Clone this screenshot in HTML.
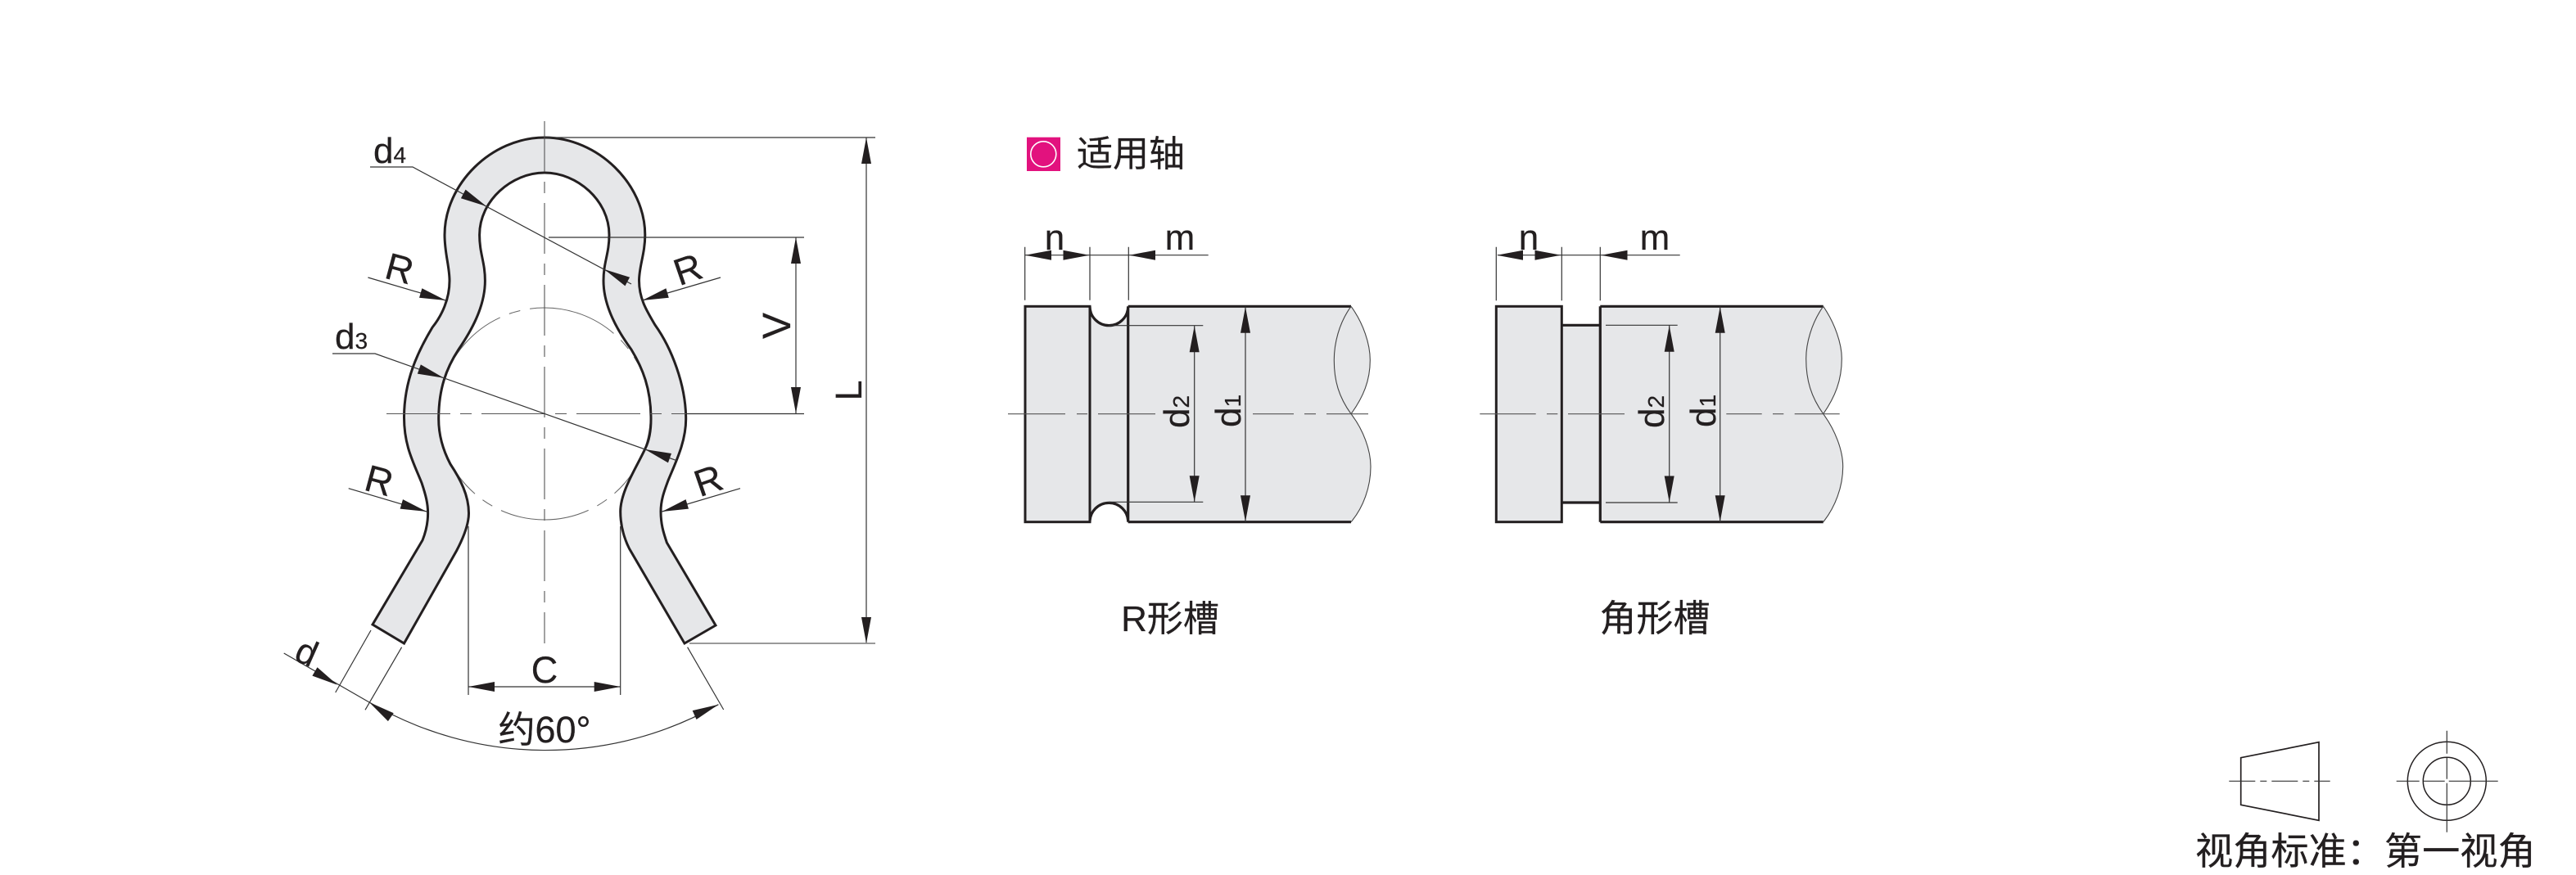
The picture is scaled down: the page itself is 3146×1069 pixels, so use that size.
<!DOCTYPE html>
<html lang="zh">
<head>
<meta charset="utf-8">
<title>适用轴</title>
<style>
html,body{margin:0;padding:0;background:#fff;}
svg{display:block;}
text{font-family:"Liberation Sans","Noto Sans CJK SC",sans-serif;fill:#231f20;stroke:#231f20;stroke-width:.25;}
.b{fill:#e6e7e9;stroke:#231f20;stroke-width:3;stroke-linejoin:miter;}
.t{fill:none;stroke:#333;stroke-width:1.2;}
.c{fill:none;stroke:#555;stroke-width:1.1;}
.h{fill:none;stroke:#231f20;stroke-width:3.2;}
</style>
</head>
<body>
<svg xmlns="http://www.w3.org/2000/svg" width="3146" height="1069" viewBox="0 0 3146 1069">
<defs><polygon id="a" points="0,0 -32,-6 -32,6" fill="#231f20"/></defs>
<rect width="3146" height="1069" fill="#fff"/>

<!-- Clip body -->
<circle cx="665" cy="505.5" r="129.5" fill="none" stroke="#666" stroke-width="1" stroke-dasharray="110 12 14 12"/>
<path class="b" d="M665,168 C600,168 543,225 543,287 C543,310 549,325 549,343 C549,365 540,385 528,400 C510,430 493.5,465 493.5,510 C493.5,545 505,565 515,590 C520,605 522.6,615 522.6,627 C522.6,640 520,650 516,660 L455,763 L493.5,786 L557.5,673 C567,655 572.5,640 572.5,627 C572.5,605 562,585 550,567 C540,548 535.7,530 535.7,512 C535.7,475 545,450 560,427 C575,405 592.4,375 592.4,343 C592.4,320 585.6,310 585.6,287 C585.6,245 625,211 665,211 C705,211 744,245 744,287 C744,310 737,320 737,343 C737,375 755,405 771,427 C785,450 795,475 795,512 C795,530 792,540 788,548 C778,570 757.7,600 757.7,625 C757.7,640 761,655 768.4,670 L836,786 L874,764 L814.4,663 C810,650 807,640 807,625 C807,610 812,598 816,587 C825,565 837.7,540 837.7,512 C837.7,470 820,425 800,397 C790,380 780.5,365 780.5,343 C780.5,325 787.8,310 787.8,287 C787.8,225 730,168 665,168 Z"/>

<!-- Center lines -->
<line class="c" x1="665" y1="148" x2="665" y2="786" stroke-dasharray="62 12 14 12"/>
<line class="c" x1="472" y1="505.5" x2="858" y2="505.5" stroke-dasharray="78 12 14 12"/>

<!-- Dimension lines -->
<path class="t" d="M452,204 H504 L771,347"/>
<path class="t" d="M406,432 H458 L826.5,562.7"/>
<path class="t" d="M670,290 H982 M838,505.5 H982 M972,290 V505"/>
<path class="t" d="M665,168 H1069 M1058,168 V786"/>
<line x1="842" y1="786" x2="1069" y2="786" stroke="#999" stroke-width="2"/>
<path class="t" d="M449.4,339 L544.4,367 M880,339 L784.4,367 M425.7,596.7 L521,625 M904,596.7 L808.6,625"/>
<path class="t" d="M346.7,798 L451,858 A426,426 0 0 0 877.4,860.7"/>
<path class="t" d="M453,770 L409.7,846 M490.6,790.7 L446,867.3 M839.6,790.7 L883.7,867"/>
<path class="t" d="M572,643 V849 M757.7,643 V849 M572,839 H757.7"/>

<use href="#a" transform="translate(594,252) rotate(28)"/>
<use href="#a" transform="translate(738,329) rotate(208)"/>
<use href="#a" transform="translate(542,461.7) rotate(19.5)"/>
<use href="#a" transform="translate(787.8,549) rotate(199.5)"/>
<use href="#a" transform="translate(544.4,367) rotate(16.4)"/>
<use href="#a" transform="translate(784.4,367) rotate(163.7)"/>
<use href="#a" transform="translate(521,625) rotate(16.5)"/>
<use href="#a" transform="translate(808.6,625) rotate(163.5)"/>
<use href="#a" transform="translate(412,836.7) rotate(30.6)"/>
<use href="#a" transform="translate(451,858) rotate(214.6)"/>
<use href="#a" transform="translate(877.4,860.7) rotate(-23.7)"/>
<use href="#a" transform="translate(972,290) rotate(-90)"/>
<use href="#a" transform="translate(972,505) rotate(90)"/>
<use href="#a" transform="translate(1058,168) rotate(-90)"/>
<use href="#a" transform="translate(1058,786) rotate(90)"/>
<use href="#a" transform="translate(572,839) rotate(180)"/>
<use href="#a" transform="translate(757.7,839)"/>

<!-- Clip labels -->
<text x="456" y="199" font-size="44">d<tspan font-size="28">4</tspan></text>
<text x="409" y="426" font-size="44">d<tspan font-size="28">3</tspan></text>
<text font-size="46" text-anchor="middle" transform="translate(488,328) rotate(15)" y="16">R</text>
<text font-size="46" text-anchor="middle" transform="translate(840,329) rotate(-19)" y="16">R</text>
<text font-size="46" text-anchor="middle" transform="translate(463,587) rotate(15)" y="16">R</text>
<text font-size="46" text-anchor="middle" transform="translate(865,587) rotate(-19)" y="16">R</text>
<text font-size="44" text-anchor="middle" transform="translate(375,796) rotate(24)" y="16">d</text>
<text font-size="48" text-anchor="middle" transform="translate(948,398) rotate(-90)" y="17">V</text>
<text font-size="45" text-anchor="middle" transform="translate(1036,477) rotate(-90)" y="16">L</text>
<text font-size="45" text-anchor="middle" x="665" y="834">C</text>
<text font-size="45" text-anchor="middle" x="665" y="907">约60°</text>

<!-- Heading -->
<rect x="1254" y="167.7" width="41" height="41.3" fill="#e2127e"/>
<circle cx="1274.3" cy="188.3" r="15.5" fill="none" stroke="#fff" stroke-width="1.6"/>
<text x="1315" y="203" font-size="44">适用轴</text>

<!-- R groove shaft -->
<path d="M1331,374.3 A23.3,23.3 0 0 0 1377.7,374.3 L1377.7,637.7 A23.3,23.3 0 0 0 1331,637.7 Z" fill="#e6e7e9"/>
<path d="M1377.7,374.3 H1650 C1665,395 1673.3,420 1673.3,440 C1673.3,465 1665,485 1650,505.7 C1665,525 1674,550 1674,570 C1674,595 1665,620 1650,637.7 H1377.7 Z" fill="#e6e7e9"/>
<rect class="b" x="1252" y="374.3" width="79" height="263.4"/>
<path class="h" d="M1331,374.3 A23.3,23.3 0 0 0 1377.7,374.3 M1331,637.7 A23.3,23.3 0 0 1 1377.7,637.7 M1377.7,374.3 V637.7 M1377.7,374.3 H1650 M1377.7,637.7 H1650"/>
<path d="M1650,374.3 C1665,395 1673.3,420 1673.3,440 C1673.3,465 1665,485 1650,505.7 C1665,525 1674,550 1674,570 C1674,595 1665,620 1650,637.7" fill="none" stroke="#444" stroke-width="1.1"/>
<path d="M1650,374.3 C1635,395 1629.3,420 1629.3,440 C1629.3,465 1635,485 1650,505.7" fill="none" stroke="#444" stroke-width="1.1"/>
<path class="t" d="M1251.7,301.7 V366.7 M1331,301.7 V366.7 M1378.3,301.7 V366.7 M1252,311.7 H1475.7"/>
<path class="t" d="M1354,397.7 H1469.3 M1354,613.3 H1469.3 M1458.7,398 V613 M1521,374.3 V637.7"/>
<path class="c" d="M1231,505.7 H1301 M1315,505.7 H1328 M1341,505.7 H1411 M1530,505.7 H1580 M1593,505.7 H1607 M1620,505.7 H1671"/>
<use href="#a" transform="translate(1252,311.7) rotate(180)"/>
<use href="#a" transform="translate(1330.5,311.7)"/>
<use href="#a" transform="translate(1379,311.7) rotate(180)"/>
<use href="#a" transform="translate(1458.7,398.3) rotate(-90)"/>
<use href="#a" transform="translate(1458.7,613.3) rotate(90)"/>
<use href="#a" transform="translate(1521,374.8) rotate(-90)"/>
<use href="#a" transform="translate(1521,637.3) rotate(90)"/>
<text font-size="44" text-anchor="middle" x="1288" y="305">n</text>
<text font-size="44" text-anchor="middle" x="1441" y="305">m</text>
<text font-size="44" transform="translate(1452,523) rotate(-90)">d<tspan font-size="28">2</tspan></text>
<text font-size="44" transform="translate(1515,522) rotate(-90)">d<tspan font-size="28">1</tspan></text>
<text font-size="44" text-anchor="middle" x="1429" y="771">R形槽</text>

<!-- Square groove shaft -->
<rect x="1907.3" y="397.3" width="47" height="216.7" fill="#e6e7e9"/>
<path d="M1954.3,374.3 H2226.7 C2241,395 2249.3,420 2249.3,438 C2249.3,465 2241,485 2226.7,505.7 C2241,525 2250.7,550 2250.7,570 C2250.7,595 2241,620 2226.7,637.7 H1954.3 Z" fill="#e6e7e9"/>
<rect class="b" x="1827.3" y="374.3" width="80" height="263.4"/>
<path class="h" d="M1907.3,397.3 H1954.3 M1907.3,614 H1954.3 M1954.3,374.3 V637.7 M1954.3,374.3 H2226.7 M1954.3,637.7 H2226.7"/>
<path d="M2226.7,374.3 C2241,395 2249.3,420 2249.3,438 C2249.3,465 2241,485 2226.7,505.7 C2241,525 2250.7,550 2250.7,570 C2250.7,595 2241,620 2226.7,637.7" fill="none" stroke="#444" stroke-width="1.1"/>
<path d="M2226.7,374.3 C2212,395 2205.7,420 2205.7,438 C2205.7,465 2212,485 2226.7,505.7" fill="none" stroke="#444" stroke-width="1.1"/>
<path class="t" d="M1827.3,301.7 V367.3 M1907.3,301.7 V367.3 M1954.3,301.7 V367.3 M1829,311.7 H2051.7"/>
<path class="t" d="M1961,397.3 H2048.7 M1961,614 H2048.7 M2038.7,397.3 V614 M2100.7,374.3 V637.7"/>
<path class="c" d="M1807.3,505.7 H1875.7 M1889,505.7 H1902.3 M1915,505.7 H1984 M2108.3,505.7 H2151.7 M2165,505.7 H2178.3 M2191.7,505.7 H2246.7"/>
<use href="#a" transform="translate(1828,311.7) rotate(180)"/>
<use href="#a" transform="translate(1906.5,311.7)"/>
<use href="#a" transform="translate(1955.5,311.7) rotate(180)"/>
<use href="#a" transform="translate(2038.7,397.8) rotate(-90)"/>
<use href="#a" transform="translate(2038.7,613.5) rotate(90)"/>
<use href="#a" transform="translate(2100.7,374.8) rotate(-90)"/>
<use href="#a" transform="translate(2100.7,637.3) rotate(90)"/>
<text font-size="44" text-anchor="middle" x="1867" y="305">n</text>
<text font-size="44" text-anchor="middle" x="2021" y="305">m</text>
<text font-size="44" transform="translate(2032,523) rotate(-90)">d<tspan font-size="28">2</tspan></text>
<text font-size="44" transform="translate(2095,522) rotate(-90)">d<tspan font-size="28">1</tspan></text>
<text font-size="45" text-anchor="middle" x="2021" y="771">角形槽</text>

<!-- First angle projection symbol -->
<path d="M2736.7,925.7 L2832,906.7 V1002.3 L2736.7,983.3 Z" fill="none" stroke="#231f20" stroke-width="1.7"/>
<line x1="2722.3" y1="954.3" x2="2845.7" y2="954.3" stroke="#333" stroke-width="1.2" stroke-dasharray="32 6 8 6"/>
<circle cx="2988.3" cy="954.3" r="48" fill="none" stroke="#231f20" stroke-width="1.5"/>
<circle cx="2988.3" cy="954.3" r="29" fill="none" stroke="#231f20" stroke-width="1.5"/>
<line x1="2926.7" y1="954.3" x2="3050.7" y2="954.3" stroke="#333" stroke-width="1.2" stroke-dasharray="28 5 26 5 60"/>
<line x1="2988.3" y1="892.7" x2="2988.3" y2="1016.7" stroke="#333" stroke-width="1.2" stroke-dasharray="28 5 26 5 60"/>
<text x="2681" y="1056" font-size="46.2">视角标准：第一视角</text>
</svg>
</body>
</html>
